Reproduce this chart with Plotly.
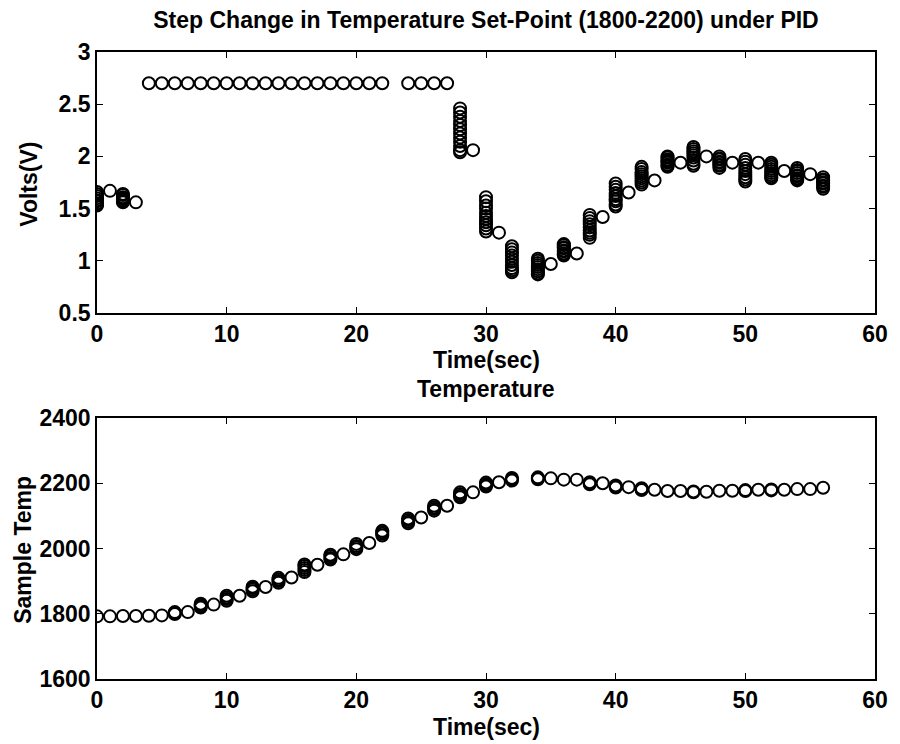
import plotly.graph_objects as go

# ---------------- Data: control voltage (top) ----------------
volt_time = (
    [0]*9 + [1] + [2]*8 + [3]
    + [4, 5, 6, 7, 8, 9, 10, 11, 12, 13, 14, 15, 16, 17, 18, 19, 20, 21, 22, 24, 25, 26, 27]
    + [28]*12 + [29] + [30]*11 + [31] + [32]*10
    + [34]*9 + [35] + [36]*9 + [37] + [38]*9 + [39]
    + [40]*9 + [41] + [42]*9 + [43] + [44]*9 + [45]
    + [46]*9 + [47] + [48]*8 + [49] + [50]*9 + [51]
    + [52]*9 + [53] + [54]*9 + [55] + [56]*8
)
volt_value = (
    [1.66, 1.64, 1.62, 1.60, 1.58, 1.57, 1.55, 1.54, 1.53]
    + [1.67]
    + [1.64, 1.63, 1.61, 1.60, 1.59, 1.58, 1.57, 1.56]
    + [1.56]
    + [2.7, 2.7, 2.7, 2.7, 2.7, 2.7, 2.7, 2.7, 2.7, 2.7, 2.7, 2.7, 2.7, 2.7, 2.7, 2.7, 2.7, 2.7, 2.7, 2.7, 2.7, 2.7, 2.7]
    + [2.46, 2.42, 2.38, 2.34, 2.30, 2.26, 2.22, 2.18, 2.14, 2.10, 2.06, 2.04]
    + [2.06]
    + [1.61, 1.57, 1.53, 1.50, 1.46, 1.43, 1.40, 1.37, 1.34, 1.31, 1.28]
    + [1.27]
    + [1.14, 1.11, 1.08, 1.05, 1.02, 0.99, 0.96, 0.93, 0.91, 0.89]
    + [1.02, 1.00, 0.98, 0.96, 0.94, 0.92, 0.90, 0.88, 0.87]
    + [0.97]
    + [1.16, 1.15, 1.13, 1.12, 1.10, 1.09, 1.07, 1.06, 1.05]
    + [1.07]
    + [1.44, 1.41, 1.38, 1.35, 1.32, 1.29, 1.27, 1.25, 1.22]
    + [1.42]
    + [1.74, 1.71, 1.68, 1.65, 1.62, 1.59, 1.57, 1.54, 1.52]
    + [1.655]
    + [1.90, 1.88, 1.85, 1.83, 1.81, 1.79, 1.77, 1.75, 1.73]
    + [1.77]
    + [2.00, 1.99, 1.97, 1.96, 1.95, 1.94, 1.92, 1.91, 1.90]
    + [1.94]
    + [2.09, 2.07, 2.05, 2.03, 2.01, 1.99, 1.96, 1.93, 1.91]
    + [2.00]
    + [2.00, 1.98, 1.97, 1.95, 1.94, 1.92, 1.91, 1.89]
    + [1.94]
    + [1.975, 1.95, 1.92, 1.89, 1.86, 1.83, 1.80, 1.78, 1.76]
    + [1.94]
    + [1.94, 1.92, 1.90, 1.88, 1.86, 1.84, 1.82, 1.80, 1.79]
    + [1.86]
    + [1.89, 1.87, 1.86, 1.84, 1.82, 1.81, 1.79, 1.78, 1.77]
    + [1.83]
    + [1.80, 1.78, 1.77, 1.75, 1.74, 1.72, 1.71, 1.69]
)

# ---------------- Data: sample temperature (bottom) ----------------
temp_time = (
    [0, 1, 2, 3, 4, 5]
    + [6]*3 + [7] + [8]*4 + [9] + [10]*4 + [11] + [12]*4 + [13]
    + [14]*4 + [15] + [16]*5 + [17] + [18]*4 + [19] + [20]*4 + [21]
    + [22]*4 + [24]*4 + [25] + [26]*4 + [27] + [28]*4 + [29]
    + [30]*4 + [31] + [32]*3 + [34]*3 + [35, 36, 37]
    + [38]*3 + [39] + [40]*3 + [41] + [42]*3 + [43, 44, 45]
    + [46]*2 + [47, 48, 49] + [50]*2 + [51] + [52]*2 + [53, 54, 55, 56]
)
temp_value = (
    [1792, 1792, 1793, 1793, 1794, 1795]
    + [1799, 1802, 1805] + [1805]
    + [1819, 1823, 1827, 1831] + [1828]
    + [1840, 1845, 1850, 1855] + [1855]
    + [1869, 1874, 1879, 1883] + [1882]
    + [1895, 1900, 1905, 1910] + [1911]
    + [1928, 1934, 1940, 1946, 1951] + [1950]
    + [1966, 1971, 1976, 1981] + [1982]
    + [1998, 2003, 2008, 2014] + [2017]
    + [2040, 2045, 2050, 2054]
    + [2077, 2082, 2087, 2092] + [2095]
    + [2116, 2121, 2126, 2131] + [2131]
    + [2157, 2162, 2167, 2172] + [2172]
    + [2190, 2194, 2198, 2202] + [2203]
    + [2208, 2212, 2216]
    + [2212, 2215, 2218] + [2215, 2211, 2211]
    + [2197, 2200, 2203] + [2200]
    + [2187, 2190, 2193] + [2188]
    + [2179, 2182, 2185] + [2180, 2176, 2176]
    + [2172, 2175] + [2174, 2177, 2177]
    + [2176, 2179] + [2180]
    + [2178, 2181] + [2180, 2182, 2182, 2186]
)

x_ticks = [0, 10, 20, 30, 40, 50, 60]
volt_ticks = [0.5, 1, 1.5, 2, 2.5, 3]
volt_tick_text = ["0.5", "1", "1.5", "2", "2.5", "3"]
temp_ticks = [1600, 1800, 2000, 2200, 2400]

FONT = "Liberation Sans, Arial, Helvetica, sans-serif"
FS = 23


def bold(s):
    return "<b>" + s + "</b>"


marker = dict(symbol="circle-open", size=12, color="black", line=dict(color="black", width=2))

fig = go.Figure()
fig.add_trace(go.Scatter(x=volt_time, y=volt_value, mode="markers", marker=marker,
                         xaxis="x", yaxis="y", showlegend=False))
fig.add_trace(go.Scatter(x=temp_time, y=temp_value, mode="markers", marker=marker,
                         xaxis="x2", yaxis="y2", showlegend=False))

axis_common = dict(showgrid=False, zeroline=False, showline=True, linecolor="black", linewidth=1.6,
                   mirror="ticks", ticks="inside", ticklen=6, tickwidth=1.3, tickcolor="black",
                   tickfont=dict(family=FONT, size=FS, color="black", weight="bold"))

fig.update_layout(
    width=900, height=744,
    margin=dict(l=97, r=17, t=52, b=65),
    paper_bgcolor="white", plot_bgcolor="white",
    font=dict(family=FONT, size=FS, color="black"),
    title=dict(text=bold("Step Change in Temperature Set-Point (1800-2200) under PID"),
               x=0.5, xref="paper", xanchor="center", y=1 - 20 / 744, yanchor="middle",
               font=dict(family=FONT, size=FS, color="black")),
    xaxis=dict(range=[0, 60], tickvals=x_ticks, domain=[0, 1], anchor="y", **axis_common),
    yaxis=dict(range=[0.5, 3], tickvals=volt_ticks, ticktext=volt_tick_text,
               domain=[0.5837, 1], anchor="x", **axis_common),
    xaxis2=dict(range=[0, 60], tickvals=x_ticks, domain=[0, 1], anchor="y2", **axis_common),
    yaxis2=dict(range=[1600, 2400], tickvals=temp_ticks, domain=[0, 0.4163], anchor="x2", **axis_common),
)

ann = dict(xref="paper", yref="paper", showarrow=False, font=dict(family=FONT, size=FS, color="black"))
fig.add_annotation(text=bold("Time(sec)"), x=0.5, y=(679 - 360) / 627, xanchor="center", yanchor="middle", **ann)
fig.add_annotation(text=bold("Temperature"), x=0.5, y=(679 - 389) / 627, xanchor="center", yanchor="middle", **ann)
fig.add_annotation(text=bold("Time(sec)"), x=0.5, y=(679 - 727) / 627, xanchor="center", yanchor="middle", **ann)
fig.add_annotation(text=bold("Volts(V)"), x=(28 - 97) / 786, y=(679 - 184) / 627, textangle=-90,
                   xanchor="center", yanchor="middle", **ann)
fig.add_annotation(text=bold("Sample Temp"), x=(22 - 97) / 786, y=(679 - 550) / 627, textangle=-90,
                   xanchor="center", yanchor="middle", **ann)

fig.write_html("out.html")
